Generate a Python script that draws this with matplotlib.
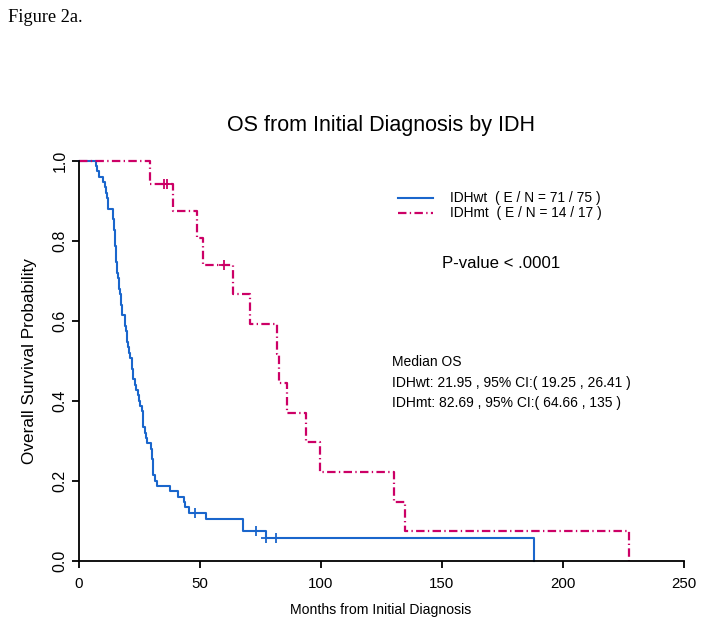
import numpy as np
import matplotlib.pyplot as plt

plt.rcParams['font.family'] = ['Liberation Sans', 'DejaVu Sans']

# IDHwt: death times and censoring times (months)
wt_deaths = [7.1, 7.8, 8.6, 10.2, 10.8, 11.3, 11.7, 12.0, 12.3,
             14.1, 14.3, 14.5, 14.7, 14.9, 15.0, 15.2, 15.4, 15.5, 15.6, 15.7, 15.8,
             16.4, 16.7, 16.9, 17.1, 17.4, 17.6, 17.8, 18.0,
             19.2, 19.4, 19.6, 19.9, 20.2, 20.4, 20.7, 21.3, 21.95,
             22.1, 22.3, 22.6, 23.2, 23.9, 24.7, 25.0, 25.4,
             26.4, 26.5, 26.7, 26.8, 27.3, 27.8, 28.2, 29.8, 30.3,
             30.5, 30.6, 30.7, 30.9, 31.5, 32.3,
             37.8, 41.0, 43.7, 43.8, 45.7, 52.5, 67.8, 67.8, 77.6, 188.2]
wt_censored = [48.1, 73.2, 77.6, 81.4]

# IDHmt
mt_deaths = [29.5, 38.9, 48.8, 51.5, 63.9, 70.8, 81.8, 82.69, 86.0,
             93.8, 99.7, 130.4, 134.8, 227.4]
mt_censored = [35.2, 36.4, 60.1]

blue = '#1a66cc'
red = '#cc0066'
dotdash = (0, (3.8, 1.5, 0.6, 1.5))


def km(deaths, censored):
    t = np.array(deaths + censored, dtype=float)
    e = np.array([1] * len(deaths) + [0] * len(censored))
    order = np.lexsort((1 - e, t))  # deaths before censorings at ties
    t, e = t[order], e[order]
    n = len(t)
    s = 1.0
    xs, ys = [0.0], [1.0]
    cx, cy = [], []
    for i in range(n):
        at_risk = n - i
        if e[i]:
            s *= (at_risk - 1) / at_risk
            xs.append(t[i])
            ys.append(s)
        else:
            cx.append(t[i])
            cy.append(s)
    return xs, ys, cx, cy


W, H = 704, 629
fig = plt.figure(figsize=(W / 100, H / 100), dpi=100)
x0, x1, y0, y1 = 78.5, 684, 160.7, 560.7
ax = fig.add_axes([x0 / W, 1 - y1 / H, (x1 - x0) / W, (y1 - y0) / H])

xs, ys, cx, cy = km(wt_deaths, wt_censored)
ax.step(xs, ys, where='post', color=blue, lw=1.5, clip_on=False)
ax.plot(cx, cy, '+', color=blue, ms=7, mew=1.3, clip_on=False)

xs, ys, cx, cy = km(mt_deaths, mt_censored)
ax.step(xs, ys, where='post', color=red, lw=1.6, clip_on=False, ls=dotdash)
ax.plot(cx, cy, '+', color=red, ms=7, mew=1.3, clip_on=False)

ax.set_xlim(0, 250)
ax.set_ylim(0, 1)
ax.set_xticks([0, 50, 100, 150, 200, 250])
ax.set_xticklabels(['0', '50', '100', '150', '200', '250'], fontsize=10.8)
ax.set_yticks([0.0, 0.2, 0.4, 0.6, 0.8, 1.0])
ax.set_yticklabels(['0.0', '0.2', '0.4', '0.6', '0.8', '1.0'],
                   rotation=90, va='center', fontsize=11.5)
for sp in ['top', 'right']:
    ax.spines[sp].set_visible(False)
for sp in ['left', 'bottom']:
    ax.spines[sp].set_linewidth(1.3)
ax.tick_params(length=5, width=1.3)
ax.tick_params(axis='x', pad=7)
ax.tick_params(axis='y', pad=3)


def px(x, y):
    return x / W, 1 - y / H


fig.text(*px(381, 610), 'Months from Initial Diagnosis', fontsize=10.1,
         ha='center', va='center')
fig.text(*px(30, 361), 'Overall Survival Probability', fontsize=12.3,
         rotation=90, ha='center', va='center')

fig.text(*px(8, 17), 'Figure 2a.', family='Liberation Serif', fontsize=13.2,
         va='center', ha='left')
fig.text(*px(381, 126), 'OS from Initial Diagnosis by IDH', fontsize=15.5,
         ha='center', va='center')

# legend
fig.lines.append(plt.Line2D([398 / W, 433 / W], [1 - 198 / H] * 2, color=blue,
                            lw=1.5, transform=fig.transFigure))
fig.lines.append(plt.Line2D([398 / W, 433 / W], [1 - 213 / H] * 2, color=red,
                            lw=1.6, ls=dotdash, transform=fig.transFigure))
fig.text(*px(450, 198), 'IDHwt  ( E / N = 71 / 75 )', fontsize=9.9, va='center')
fig.text(*px(450, 213), 'IDHmt  ( E / N = 14 / 17 )', fontsize=9.9, va='center')

fig.text(*px(442, 263), 'P-value < .0001', fontsize=12.1, va='center')

fig.text(*px(392, 362), 'Median OS', fontsize=10, va='center')
fig.text(*px(392, 383), 'IDHwt: 21.95 , 95% CI:( 19.25 , 26.41 )', fontsize=10,
         va='center')
fig.text(*px(392, 403), 'IDHmt: 82.69 , 95% CI:( 64.66 , 135 )', fontsize=10,
         va='center')

plt.savefig('out.png', dpi=100)
